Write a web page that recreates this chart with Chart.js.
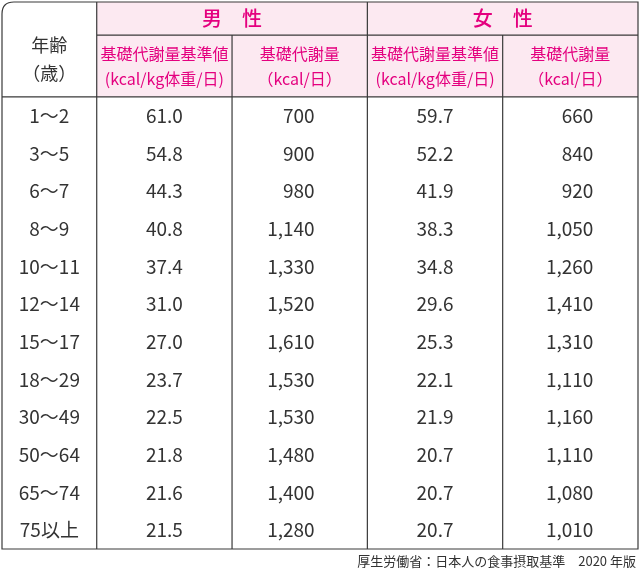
<!DOCTYPE html>
<html><head><meta charset="utf-8">
<script src="https://cdn.jsdelivr.net/npm/chart.js@4"></script>
<style>body{margin:0;background:#fff}#wrap{width:640px;height:571px}</style>
</head><body><div id="wrap"><canvas id="c"></canvas></div>
<script>
const ages = ['1～2','3～5','6～7','8～9','10～11','12～14','15～17','18～29','30～49','50～64','65～74','75以上'];
const maleRate = [61.0,54.8,44.3,40.8,37.4,31.0,27.0,23.7,22.5,21.8,21.6,21.5];
const maleKcal = [700,900,980,1140,1330,1520,1610,1530,1530,1480,1400,1280];
const femaleRate = [59.7,52.2,41.9,38.3,34.8,29.6,25.3,22.1,21.9,20.7,20.7,20.7];
const femaleKcal = [660,840,920,1050,1260,1410,1310,1110,1160,1110,1080,1010];
const groups = ['男　性','女　性'];
const subHeads = [['基礎代謝量基準値','(kcal/kg体重/日)'],['基礎代謝量','（kcal/日）']];
const ageHead = ['年齢','（歳）'];
const source = '厚生労働省：日本人の食事摂取基準　2020 年版';

// column edges in table units, header rows in row units
const colEdges = [0,0.7,1.7,2.7,3.7,4.7];
const HDR1 = -2.52, HDR2 = -1.64;

const pink = '#e4007f', bg = '#fce9f1', line = '#3a3a3a', txt = '#333';
const font = '"Noto Sans CJK JP", "Noto Sans", sans-serif';

const tablePlugin = {
  id: 'table',
  afterDraw(chart) {
    const ctx = chart.ctx, x = chart.scales.x, y = chart.scales.y;
    const X = v => x.getPixelForValue(v), Y = v => y.getPixelForValue(v);
    const L = X(0), R = X(4.7), T = Y(HDR1), B = Y(12);
    ctx.save();
    // header background
    ctx.fillStyle = bg;
    ctx.fillRect(X(colEdges[1]), T, R - X(colEdges[1]), Y(0) - T);
    // grid lines
    ctx.strokeStyle = line; ctx.lineWidth = 1.2;
    ctx.beginPath();
    ctx.moveTo(L, Y(0)); ctx.lineTo(R, Y(0));
    ctx.moveTo(X(colEdges[1]), Y(HDR2)); ctx.lineTo(R, Y(HDR2));
    [1,3].forEach(i => { ctx.moveTo(X(colEdges[i]), T); ctx.lineTo(X(colEdges[i]), B); });
    [2,4].forEach(i => { ctx.moveTo(X(colEdges[i]), Y(HDR2)); ctx.lineTo(X(colEdges[i]), B); });
    ctx.stroke();
    // outer border, rounded top-left
    ctx.beginPath();
    const r = 12;
    ctx.moveTo(L, B); ctx.lineTo(L, T + r); ctx.quadraticCurveTo(L, T, L + r, T);
    ctx.lineTo(R, T); ctx.lineTo(R, B); ctx.closePath(); ctx.stroke();
    // headers
    ctx.textBaseline = 'middle'; ctx.textAlign = 'center';
    ctx.fillStyle = pink; ctx.font = '500 20px ' + font;
    groups.forEach((g, i) => ctx.fillText(g, (X(colEdges[1 + 2*i]) + X(colEdges[3 + 2*i])) / 2, (T + Y(HDR2)) / 2));
    ctx.font = '16px ' + font;
    for (let c = 1; c <= 4; c++) {
      const h = subHeads[(c - 1) % 2], cx = (X(colEdges[c]) + X(colEdges[c+1])) / 2, my = (Y(HDR2) + Y(0)) / 2;
      ctx.fillText(h[0], cx, my - 12); ctx.fillText(h[1], cx, my + 13);
    }
    ctx.fillStyle = txt; ctx.font = '18px ' + font;
    ctx.fillText(ageHead[0], X(0.35), Y(HDR2) + 10);
    ctx.fillText(ageHead[1], X(0.35), Y(HDR2) + 38);
    // body
    ctx.font = '19px ' + font;
    const fmt = v => v.toLocaleString('en-US');
    ages.forEach((a, i) => {
      const cy = Y(i + 0.5);
      ctx.textAlign = 'center';
      ctx.fillText(a, X(0.35), cy);
      ctx.fillText(maleRate[i].toFixed(1), X(1.2), cy);
      ctx.fillText(femaleRate[i].toFixed(1), X(3.2), cy);
      ctx.textAlign = 'right';
      ctx.fillText(fmt(maleKcal[i]), X(2.31), cy);
      ctx.fillText(fmt(femaleKcal[i]), X(4.37), cy);
    });
    ctx.font = '13px ' + font; ctx.textAlign = 'right';
    ctx.fillText(source, R - 2, B + 12);
    ctx.restore();
  }
};

new Chart(document.getElementById('c'), {
  type: 'scatter',
  data: { datasets: [{ data: [], pointRadius: 0 }] },
  options: {
    responsive: true, maintainAspectRatio: false, animation: false,
    layout: { padding: { left: 2, right: 2, top: 2, bottom: 22 } },
    plugins: { legend: { display: false }, tooltip: { enabled: false } },
    scales: {
      x: { type: 'linear', min: 0, max: 4.7, display: false },
      y: { type: 'linear', min: HDR1, max: 12, reverse: true, display: false }
    }
  },
  plugins: [tablePlugin]
});
</script></body></html>
